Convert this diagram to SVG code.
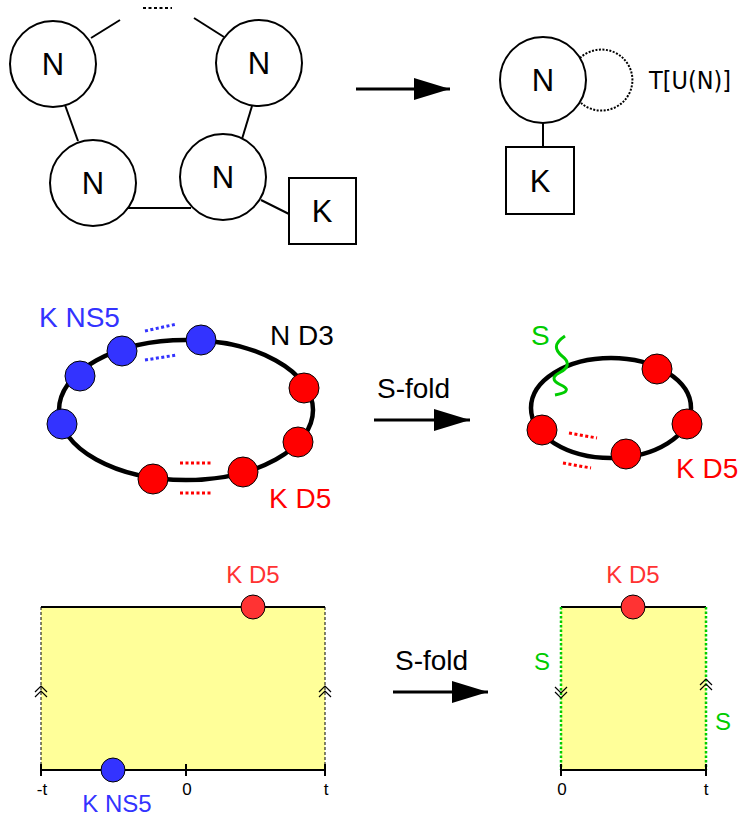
<svg xmlns="http://www.w3.org/2000/svg" width="742" height="819" viewBox="0 0 742 819">
<style>
.node{fill:#fff;stroke:#000;stroke-width:2}
.edge{stroke:#000;stroke-width:2;fill:none}
.lbl{font-family:"Liberation Sans",Arial,sans-serif;font-size:31px;fill:#000}
.big{font-family:"Liberation Sans",Arial,sans-serif;font-size:28px}
.mid{font-family:"Liberation Sans",Arial,sans-serif;font-size:24px}
.sm{font-family:"Liberation Sans",Arial,sans-serif;font-size:17px;fill:#000}
.blue{fill:#3333ff;stroke:#000;stroke-width:1}
.red{fill:#ff0000;stroke:#000;stroke-width:1}
.red2{fill:#ff3333;stroke:#000;stroke-width:1}
.ring{fill:none;stroke:#000;stroke-width:4.5}
.chev{fill:none;stroke:#000;stroke-width:1.2}
</style>
<defs>
<marker id="ah" viewBox="0 0 36 22" refX="36" refY="11" markerWidth="36" markerHeight="22" markerUnits="userSpaceOnUse" orient="auto">
<path d="M0,0 L36,11 L0,22 Z" fill="#000"/>
</marker>
</defs>

<g id="connectors">
<line class="edge" x1="91" y1="38" x2="120" y2="20"/>
<line class="edge" x1="194" y1="18" x2="224" y2="37"/>
<line class="edge" x1="65" y1="105" x2="78" y2="141"/>
<line class="edge" x1="252" y1="106" x2="242" y2="139"/>
<line class="edge" x1="126" y1="208" x2="191" y2="208"/>
<line class="edge" x1="261" y1="200" x2="289" y2="214"/>
<line x1="143" y1="8" x2="172" y2="8" stroke="#000" stroke-width="2" stroke-dasharray="3,2.5"/>
<line class="edge" x1="543" y1="123" x2="543" y2="147"/>
<path d="M580,58 A31,30.5 0 1 1 581,103" fill="none" stroke="#000" stroke-width="2" stroke-dasharray="2,1.5"/>
<line x1="356" y1="89" x2="450" y2="89" stroke="#000" stroke-width="3" marker-end="url(#ah)"/>
<line x1="374" y1="420" x2="470" y2="420" stroke="#000" stroke-width="3" marker-end="url(#ah)"/>
<line x1="393" y1="692" x2="488" y2="692" stroke="#000" stroke-width="3" marker-end="url(#ah)"/>
</g>

<g id="n1"><circle class="node" cx="53" cy="64" r="43"/><text class="lbl" x="53" y="75" text-anchor="middle">N</text></g>
<g id="n2"><circle class="node" cx="259" cy="63" r="43"/><text class="lbl" x="259" y="74" text-anchor="middle">N</text></g>
<g id="n3"><circle class="node" cx="93" cy="183" r="43"/><text class="lbl" x="93" y="194" text-anchor="middle">N</text></g>
<g id="n4"><circle class="node" cx="223" cy="177" r="43"/><text class="lbl" x="223" y="188" text-anchor="middle">N</text></g>
<g id="k1"><rect class="node" x="289" y="178" width="67" height="66"/><text class="lbl" x="322" y="222" text-anchor="middle">K</text></g>

<g id="n5"><circle class="node" cx="543" cy="80" r="43"/><text class="lbl" x="543" y="91" text-anchor="middle">N</text></g>
<g id="k2"><rect class="node" x="506" y="147" width="68" height="67"/><text class="lbl" x="540" y="192" text-anchor="middle">K</text></g>
<text x="649" y="89" font-family="DejaVu Sans,sans-serif" font-size="24" fill="#000" textLength="82" lengthAdjust="spacingAndGlyphs">T[U(N)]</text>

<g id="ring1">
<ellipse class="ring" cx="186" cy="410" rx="127" ry="70"/>
<circle class="blue" cx="201" cy="340" r="15"/>
<circle class="blue" cx="122" cy="351" r="15"/>
<circle class="blue" cx="80" cy="376" r="15"/>
<circle class="blue" cx="62" cy="424" r="15"/>
<circle class="red" cx="304" cy="388" r="15"/>
<circle class="red" cx="298" cy="442" r="15"/>
<circle class="red" cx="243" cy="472" r="15"/>
<circle class="red" cx="153" cy="479" r="15"/>
<line x1="145" y1="331" x2="177" y2="324" stroke="#3333ff" stroke-width="3" stroke-dasharray="3,2.5"/>
<line x1="145" y1="360" x2="177" y2="355" stroke="#3333ff" stroke-width="3" stroke-dasharray="3,2.5"/>
<line x1="180" y1="463" x2="213" y2="463" stroke="#ff0000" stroke-width="3" stroke-dasharray="3,2.5"/>
<line x1="180" y1="493" x2="213" y2="493" stroke="#ff0000" stroke-width="3" stroke-dasharray="3,2.5"/>
<text class="big" x="39" y="327" fill="#3333ff">K NS5</text>
<text class="big" x="270" y="345" fill="#000">N D3</text>
<text class="big" x="269" y="508" fill="#ff0000">K D5</text>
</g>
<text class="big" x="377" y="398" fill="#000">S-fold</text>

<g id="ring2">
<ellipse class="ring" cx="611" cy="408" rx="80" ry="50"/>
<circle class="red" cx="657" cy="369" r="15"/>
<circle class="red" cx="687" cy="424" r="15"/>
<circle class="red" cx="626" cy="454" r="15"/>
<circle class="red" cx="542" cy="430" r="15"/>
<line x1="569" y1="433" x2="597" y2="438" stroke="#ff0000" stroke-width="3" stroke-dasharray="3,2.5"/>
<line x1="563" y1="463" x2="591" y2="468" stroke="#ff0000" stroke-width="3" stroke-dasharray="3,2.5"/>
<path d="M565,336 C553,344 555,350 562,356 C570,362 569,368 559,373 C550,378 554,382 563,386 C570,390 566,393 555,395" fill="none" stroke="#00cc00" stroke-width="3"/>
<text class="big" x="531" y="345" font-size="25" fill="#00cc00">S</text>
<text class="big" x="676" y="478" fill="#ff0000">K D5</text>
</g>

<g id="strip1">
<rect x="41" y="607" width="284" height="163" fill="#ffff99"/>
<line x1="41" y1="607" x2="41" y2="770" stroke="#000" stroke-width="1" stroke-dasharray="3,2"/>
<line x1="325" y1="607" x2="325" y2="770" stroke="#000" stroke-width="1" stroke-dasharray="3,2"/>
<line x1="41" y1="607" x2="325" y2="607" stroke="#000" stroke-width="2"/>
<line x1="41" y1="770" x2="325" y2="770" stroke="#000" stroke-width="2"/>
<path class="edge" d="M41,764 V776 M186,764 V776 M325,764 V776" stroke-width="1.5"/>
<path class="chev" d="M35,692 L41,686 L47,692 M35,697 L41,691 L47,697"/>
<path class="chev" d="M319,692 L325,686 L331,692 M319,697 L325,691 L331,697"/>
<circle class="red2" cx="253" cy="607" r="12"/>
<circle class="blue" cx="113" cy="770" r="12"/>
<text class="mid" x="253" y="583" fill="#ff3333" text-anchor="middle">K D5</text>
<text class="mid" x="117" y="812" fill="#3333ff" text-anchor="middle">K NS5</text>
<text class="sm" x="42" y="795" text-anchor="middle">-t</text>
<text class="sm" x="187" y="795" text-anchor="middle">0</text>
<text class="sm" x="326" y="795" text-anchor="middle">t</text>
</g>
<text class="big" x="395" y="670" fill="#000">S-fold</text>

<g id="strip2">
<rect x="561" y="607" width="145" height="163" fill="#ffff99"/>
<line x1="561" y1="607" x2="706" y2="607" stroke="#000" stroke-width="2"/>
<line x1="561" y1="770" x2="706" y2="770" stroke="#000" stroke-width="2"/>
<line x1="561" y1="607" x2="561" y2="770" stroke="#00cc00" stroke-width="2.5" stroke-dasharray="2.5,2"/>
<line x1="706" y1="607" x2="706" y2="770" stroke="#00cc00" stroke-width="2.5" stroke-dasharray="2.5,2"/>
<path class="edge" d="M561,764 V776 M706,764 V776" stroke-width="1.5"/>
<path class="chev" d="M555,687 L561,693 L567,687 M555,692 L561,698 L567,692"/>
<path class="chev" d="M700,685 L706,679 L712,685 M700,690 L706,684 L712,690"/>
<circle class="red2" cx="633" cy="607" r="12"/>
<text class="mid" x="633" y="583" fill="#ff3333" text-anchor="middle">K D5</text>
<text class="mid" x="534" y="670" font-size="21" fill="#00cc00">S</text>
<text class="mid" x="715" y="730" font-size="21" fill="#00cc00">S</text>
<text class="sm" x="562" y="795" text-anchor="middle">0</text>
<text class="sm" x="706" y="795" text-anchor="middle">t</text>
</g>
</svg>
